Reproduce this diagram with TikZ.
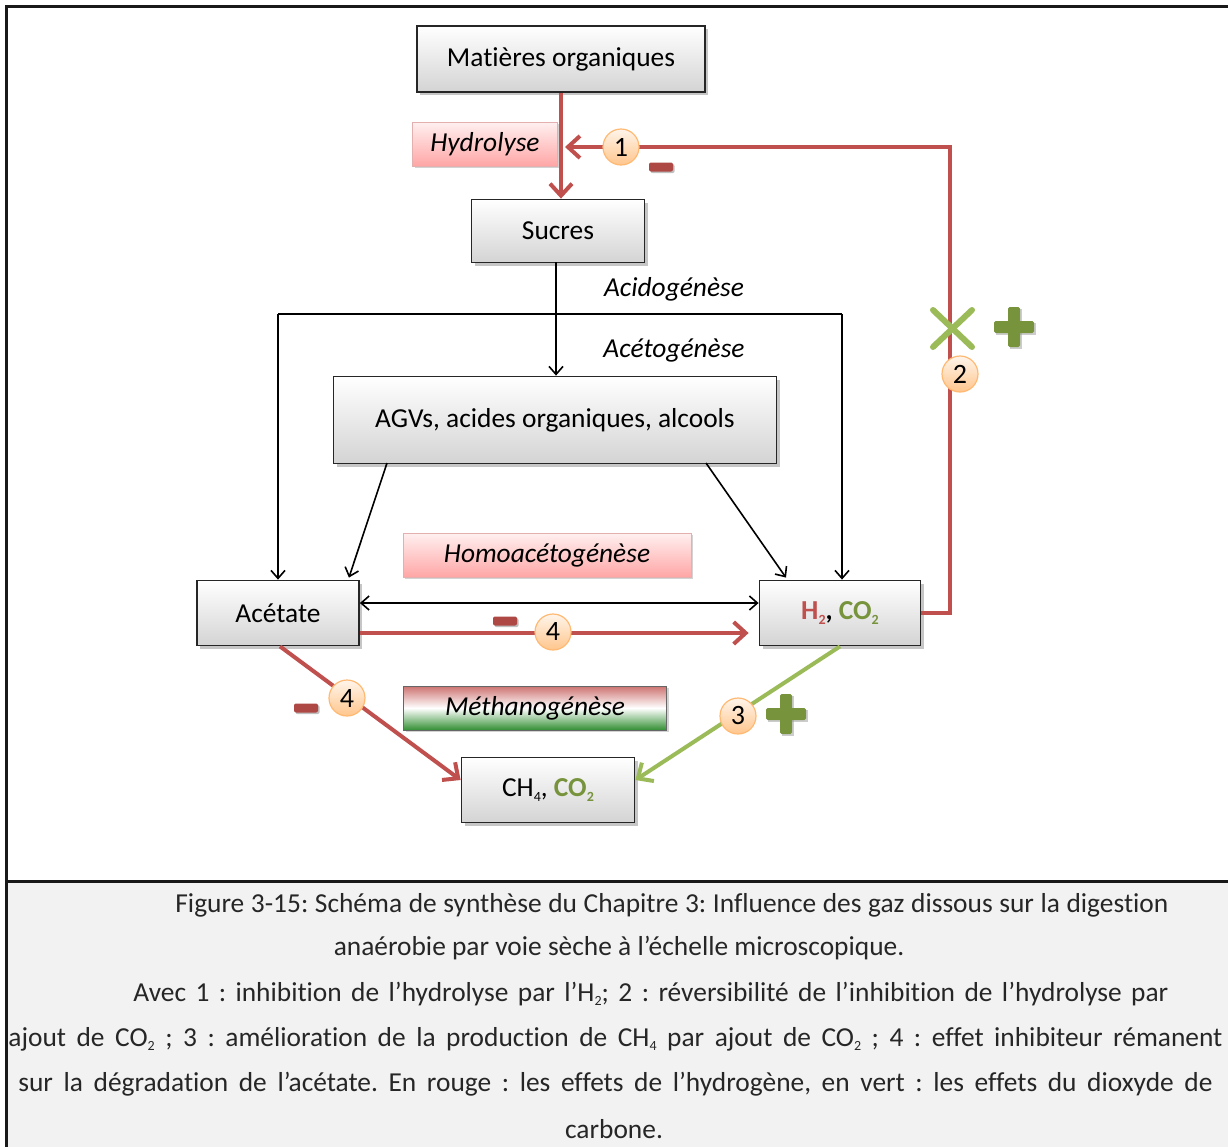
\documentclass[tikz,border=0pt]{standalone}
\usepackage{fontspec}
\setmainfont[Ligatures={NoCommon}]{Carlito}
\usetikzlibrary{arrows.meta,shadows,positioning}
\definecolor{offred}{HTML}{C0504D}
\definecolor{offgreen}{HTML}{9BBB59}
\definecolor{dkgreen}{HTML}{77933C}
\definecolor{capbg}{HTML}{F2F2F2}
\newcommand{\lowidx}[1]{\raisebox{-0.35ex}{\scriptsize #1}}
\frenchspacing
\begin{document}
\begin{tikzpicture}[x=0.5pt,y=-0.5pt,
  font=\fontsize{13.7}{16}\selectfont,
  gbox/.style={draw=black!85,line width=0.9pt,top color=white,bottom color=black!17,
    drop shadow={shadow xshift=1.5pt,shadow yshift=-1.5pt,opacity=0.45},
    inner sep=0pt},
  pinkbox/.style={draw=offred!45,line width=0.5pt,top color=red!6,bottom color=red!35,
    drop shadow={shadow xshift=1.2pt,shadow yshift=-1.2pt,opacity=0.35},
    inner sep=0pt,font=\fontsize{13.7}{16}\selectfont\itshape},
  numc/.style={circle,draw=orange!55,line width=0.6pt,top color=orange!8,bottom color=orange!45,
    minimum size=18pt,inner sep=0pt,font=\fontsize{14}{16}\selectfont},
  redarr/.style={draw=offred,line width=2pt,-{Straight Barb[length=6pt,width=11pt,line width=2pt]}},
  grnarr/.style={draw=offgreen,line width=2pt,-{Straight Barb[length=6pt,width=11pt,line width=2pt]}},
  blkarr/.style={draw=black,line width=0.8pt,-{Straight Barb[length=4pt,width=7pt,line width=0.8pt]}},
  blkln/.style={draw=black,line width=0.8pt},
  minusred/.style={rectangle,rounded corners=1pt,fill=offred!90!black,minimum width=12pt,minimum height=4.5pt,inner sep=0pt,
    drop shadow={shadow xshift=0.8pt,shadow yshift=-0.8pt,opacity=0.5}},
  capt/.style={font=\fontsize{13.7}{16}\selectfont,inner sep=0pt,text=black!85}
]
\useasboundingbox (0,0) rectangle (1228,1147);
% frame and caption background
\fill[capbg] (7,882) rectangle (1228,1147);
\draw[line width=1.5pt,black!90] (1228,6) -- (6,6) -- (6,1147);
\draw[line width=1.5pt,black!90] (6,881) -- (1228,881);

% boxes
\node[gbox,minimum width=144pt,minimum height=33pt] (mat) at (561,59) {Matières organiques};
\node[pinkbox,minimum width=72.5pt,minimum height=22pt] (hyd) at (485,144) {Hydrolyse};
\node[gbox,minimum width=86.5pt,minimum height=31.5pt] (suc) at (558,231) {Sucres};
\node[font=\fontsize{13.7}{16}\selectfont\itshape,inner sep=0pt] (acido) at (674,289) {Acidogénèse};
\node[font=\fontsize{13.7}{16}\selectfont\itshape,inner sep=0pt] (aceto) at (674,350) {Acétogénèse};
\node[gbox,minimum width=221.5pt,minimum height=43.5pt] (agv) at (555,420) {AGVs, acides organiques, alcools};
\node[pinkbox,minimum width=144pt,minimum height=22pt] (homo) at (547,555) {Homoacétogénèse};
\node[gbox,minimum width=81pt,minimum height=32.5pt] (ace) at (278,613) {Acétate};
\node[gbox,minimum width=80.5pt,minimum height=32.5pt] (h2) at (840,613)
  {\textbf{\textcolor{offred}{H\lowidx{2}}, \textcolor{dkgreen}{CO\lowidx{2}}}};
\node[draw=black!60,line width=0.5pt,inner sep=0pt,minimum width=131.5pt,minimum height=22pt,
  drop shadow={shadow xshift=1.2pt,shadow yshift=-1.2pt,opacity=0.35},
  top color=offred!80,bottom color=green!45!black!80!white,middle color=white,
  font=\fontsize{13.7}{16}\selectfont\itshape] (meth) at (535,708) {Méthanogénèse};
\node[gbox,minimum width=86.5pt,minimum height=32.5pt] (ch4) at (548,790)
  {CH\lowidx{4}, \textbf{\textcolor{dkgreen}{CO\lowidx{2}}}};

% named points
\coordinate (hydin) at (565,147);
\coordinate (fbtop) at (950,147);
\coordinate (jL) at (278,314);
\coordinate (jR) at (842,314);
\coordinate (sucx) at (556,262);
\coordinate (agvL) at (387,463);
\coordinate (agvR) at (706,463);

% red connectors
\draw[redarr] (mat.south) -- (mat.south |- suc.north);
\draw[redarr] (h2.east) -| (fbtop) -- (hydin);
\draw[redarr] ([yshift=-10pt]ace.east) -- ([xshift=-5pt,yshift=-10pt]h2.west);
\draw[redarr] ([xshift=1pt]ace.south) -- ([yshift=5pt]ch4.west);
\draw[grnarr] (h2.south) -- ([yshift=5pt]ch4.east);

% black connectors
\draw[blkarr] (sucx) -- (sucx |- agv.north);
\draw[blkln] (jL) -- (jR);
\draw[blkarr] (jL) -- (jL |- ace.north);
\draw[blkarr] (jR) -- (jR |- h2.north);
\draw[blkarr] (agvL) -- ([xshift=-5.5pt,yshift=1pt]ace.north east);
\draw[blkarr] (agvR) -- ([xshift=-27pt,yshift=1pt]h2.north);
\draw[blkln,{Straight Barb[length=4pt,width=7pt,line width=0.8pt]}-{Straight Barb[length=4pt,width=7pt,line width=0.8pt]}]
  ([yshift=5pt]ace.east) -- ([yshift=5pt]h2.west);

% number circles
\node[numc] (n1) at (621,147) {1};
\node[numc] (n2) at (960,374) {2};
\node[numc] (n3) at (738,716) {3};
\node[numc] (n4a) at (553,632) {4};
\node[numc] (n4b) at (347,698) {4};

% signs
\node[minusred] (m1) at (661,167) {};
\node[minusred] (m4a) at (505,621) {};
\node[minusred] (m4b) at (306,708) {};
\draw[offgreen,line width=3pt,line cap=round] (933,310) -- (972,347);
\draw[offgreen,line width=3pt,line cap=round] (972,310) -- (933,347);
\node[inner sep=0pt,minimum size=0pt] (plus2) at (1014,327) {};
\node[inner sep=0pt,minimum size=0pt] (plus3) at (786,714) {};
\foreach \p in {plus2,plus3}{
  \fill[black!40,opacity=0.5] ([xshift=1pt,yshift=-1pt]\p) ++(-3pt,-10pt) rectangle ++(6pt,20pt);
  \fill[black!40,opacity=0.5] ([xshift=1pt,yshift=-1pt]\p) ++(-10pt,-3pt) rectangle ++(20pt,6pt);
  \fill[dkgreen,rounded corners=0.8pt] (\p) ++(-3pt,-10pt) rectangle ++(6pt,20pt);
  \fill[dkgreen,rounded corners=0.8pt] (\p) ++(-10pt,-3pt) rectangle ++(20pt,6pt);
}

% caption
\node[capt,anchor=west] (c1) at (175,905) {\makebox[496.5pt][s]{Figure 3-15: Schéma de synthèse du Chapitre 3: Influence des gaz dissous sur la digestion}};
\node[capt] (c2) at (619,948) {anaérobie par voie sèche à l’échelle microscopique.};
\node[capt,anchor=west] (c3) at (133,994) {\makebox[517.5pt][s]{Avec 1 : inhibition de l’hydrolyse par l’H\lowidx{2}; 2 : réversibilité de l’inhibition de l’hydrolyse par}};
\node[capt,anchor=west] (c4) at (8,1039) {\makebox[607pt][s]{ajout de CO\lowidx{2} ; 3 : amélioration de la production de CH\lowidx{4} par ajout de CO\lowidx{2} ; 4 : effet inhibiteur rémanent}};
\node[capt,anchor=west] (c5) at (18,1084) {\makebox[597pt][s]{sur la dégradation de l’acétate. En rouge : les effets de l’hydrogène, en vert : les effets du dioxyde de}};
\node[capt] (c6) at (614,1129) {carbone.};
\end{tikzpicture}
\end{document}
